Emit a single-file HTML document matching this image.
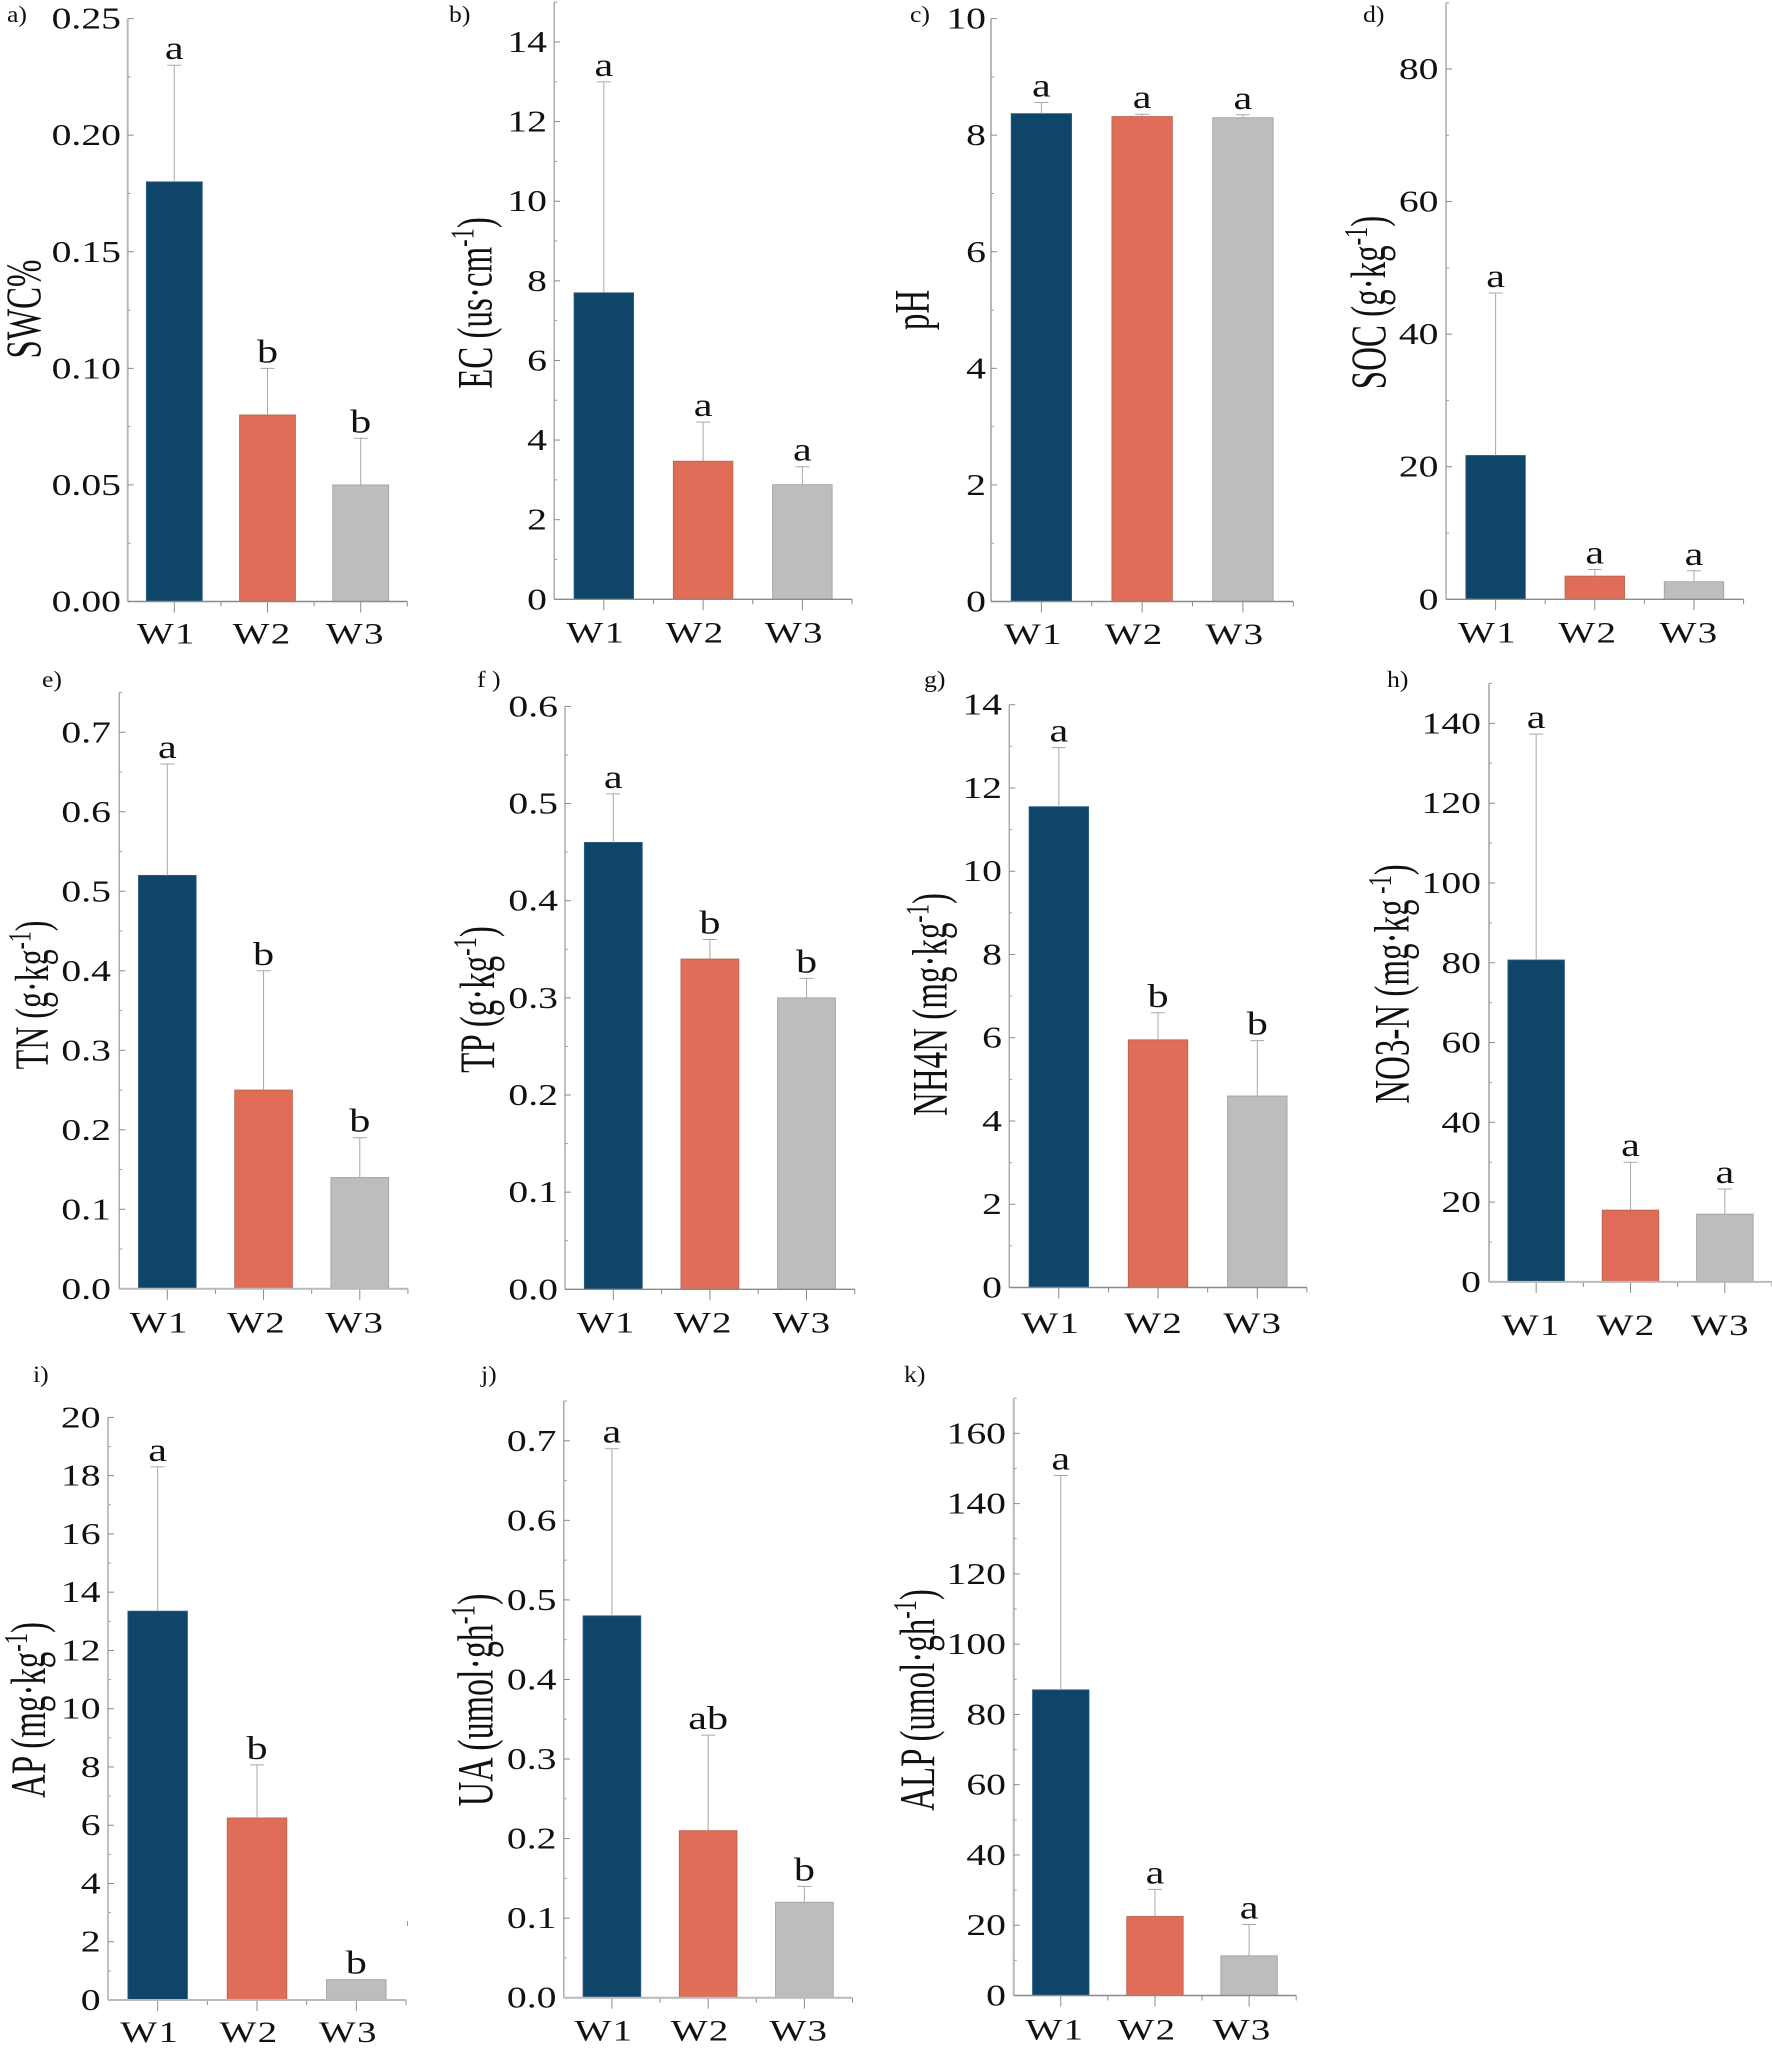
<!DOCTYPE html>
<html lang="en">
<head>
<meta charset="utf-8">
<title>Soil properties across W1, W2 and W3</title>
<style>
html,body{margin:0;padding:0;background:#fff;}
svg{display:block;font-family:"Liberation Serif","Times New Roman",serif;}
</style>
</head>
<body>
<svg id="figure" xmlns="http://www.w3.org/2000/svg" width="1772" height="2052" viewBox="0 0 1772 2052">
<rect x="0" y="0" width="1772" height="2052" fill="#ffffff"/>
<path d="M407.5 1921V1926" stroke="#999" stroke-width="1"/>
</svg>
<script>
const categories = ['W1', 'W2', 'W3'];

const swcValues = [0.18, 0.08, 0.05];
const swcErrors = [0.05, 0.02, 0.02];
const swcLetters = ['a', 'b', 'b'];
const swcTicks = ['0.00', '0.05', '0.10', '0.15', '0.20', '0.25'];

const ecValues = [7.7, 3.47, 2.88];
const ecErrors = [5.3, 0.98, 0.45];
const ecLetters = ['a', 'a', 'a'];
const ecTicks = ['0', '2', '4', '6', '8', '10', '12', '14'];

const phValues = [8.37, 8.32, 8.3];
const phErrors = [0.19, 0.04, 0.05];
const phLetters = ['a', 'a', 'a'];
const phTicks = ['0', '2', '4', '6', '8', '10'];

const socValues = [21.7, 3.5, 2.65];
const socErrors = [24.5, 1, 1.65];
const socLetters = ['a', 'a', 'a'];
const socTicks = ['0', '20', '40', '60', '80'];

const tnValues = [0.52, 0.25, 0.14];
const tnErrors = [0.14, 0.15, 0.05];
const tnLetters = ['a', 'b', 'b'];
const tnTicks = ['0.0', '0.1', '0.2', '0.3', '0.4', '0.5', '0.6', '0.7'];

const tpValues = [0.46, 0.34, 0.3];
const tpErrors = [0.05, 0.02, 0.02];
const tpLetters = ['a', 'b', 'b'];
const tpTicks = ['0.0', '0.1', '0.2', '0.3', '0.4', '0.5', '0.6'];

const nh4Values = [11.55, 5.95, 4.6];
const nh4Errors = [1.42, 0.65, 1.33];
const nh4Letters = ['a', 'b', 'b'];
const nh4Ticks = ['0', '2', '4', '6', '8', '10', '12', '14'];

const no3Values = [80.7, 18, 17];
const no3Errors = [56.6, 12, 6.3];
const no3Letters = ['a', 'a', 'a'];
const no3Ticks = ['0', '20', '40', '60', '80', '100', '120', '140'];

const apValues = [13.35, 6.25, 0.7];
const apErrors = [4.95, 1.82, 0];
const apLetters = ['a', 'b', 'b'];
const apTicks = ['0', '2', '4', '6', '8', '10', '12', '14', '16', '18', '20'];

const uaValues = [0.48, 0.21, 0.12];
const uaErrors = [0.21, 0.12, 0.02];
const uaLetters = ['a', 'ab', 'b'];
const uaTicks = ['0.0', '0.1', '0.2', '0.3', '0.4', '0.5', '0.6', '0.7'];

const alpValues = [87, 22.5, 11.3];
const alpErrors = [61, 7.7, 8.9];
const alpLetters = ['a', 'a', 'a'];
const alpTicks = ['0', '20', '40', '60', '80', '100', '120', '140', '160'];

const barColors = ['#0f4569', '#df6d58', '#bdbdbd'];
const barEdges = ['#2f6085', '#b9604f', '#9d9d9d'];
const NS = 'http://www.w3.org/2000/svg';
const STRETCH = 1.28;
const TITLE_STRETCH = 1.5;
const thin = '#8a8a8a';
const thick = '#b9b9b9';
const svg = document.getElementById('figure');

function make(parent, tag, attrs) {
  const node = document.createElementNS(NS, tag);
  for (const k in attrs) node.setAttribute(k, attrs[k]);
  parent.appendChild(node);
  return node;
}

function drawPanel(p) {
  const g = make(svg, 'g', {});
  
  

  const yMaxValue = p.yMax;
  const yScale = v => p.yBase - (v / yMaxValue) * (p.yBase - p.yTop);
  const band = (p.x1 - p.x0) / p.categories.length;
  const xScale = i => p.x0 + (i + 0.5) * band;
  const barWidth = band * 0.6;
  const nudge = p.labelNudge || [0, 0, 0];

  p.categories.forEach((cat, i) => {
    const value = p.values[i];
    const err = p.errors[i];
    const cx = xScale(i);
    const bar = make(g, 'rect', {
      x: cx - barWidth / 2, y: yScale(value), width: barWidth, height: p.yBase - yScale(value),
      fill: barColors[i], stroke: barEdges[i], 'stroke-width': 0.8
    });
    
    

    if (err > 0) {
      const top = yScale(value + err);
      const errLine = make(g, 'path', {
        d: 'M' + cx + ' ' + yScale(value) + 'V' + top + 'M' + (cx - 7) + ' ' + top + 'H' + (cx + 7),
        stroke: '#a8a8a8', 'stroke-width': 1, fill: 'none'
      });
      
      
    }

    const letterY = yScale(value + err) - 6;
    const letter = make(g, 'text', {
      transform: 'translate(' + cx + ' ' + letterY + ') scale(' + STRETCH + ' 1)',
      'text-anchor': 'middle', 'font-size': 33, fill: '#111'
    });
    letter.textContent = p.letters[i];
    
    

    const label = make(g, 'text', {
      transform: 'translate(' + (cx - 8 + nudge[i]) + ' ' + p.labelY + ') scale(1.3 1)',
      'text-anchor': 'middle', 'font-size': 30, fill: '#111', 'letter-spacing': 1
    });
    label.textContent = cat;
    
    

    const majorTick = make(g, 'path', {
      d: 'M' + cx + ' ' + p.yBase + 'v11', stroke: '#8a8a8a', 'stroke-width': 1, fill: 'none'
    });
    
    

    const edgeTick = make(g, 'path', {
      d: 'M' + (p.x0 + (i + 1) * band) + ' ' + p.yBase + 'v5', stroke: '#8a8a8a', 'stroke-width': 1, fill: 'none'
    });
    
    
  });

  const yAxis = make(g, 'path', {
    d: 'M' + p.x0 + ' ' + p.yTop + 'V' + p.yBase,
    stroke: p.yAxisColor, 'stroke-width': p.yAxisWidth, fill: 'none'
  });
  
  

  const xAxis = make(g, 'path', {
    d: 'M' + p.x0 + ' ' + p.yBase + 'H' + p.x1,
    stroke: p.xAxisColor, 'stroke-width': p.xAxisWidth, fill: 'none'
  });
  
  

  const step = Number(p.ticks[1]) - Number(p.ticks[0]);
  p.ticks.forEach(t => {
    const v = Number(t);
    const y = yScale(v);
    if (v > 0) {
      const tick = make(g, 'path', {
        d: 'M' + p.x0 + ' ' + y + 'h6', stroke: '#8a8a8a', 'stroke-width': 1, fill: 'none'
      });
      
      
    }
    const label = make(g, 'text', {
      transform: 'translate(' + p.tickRight + ' ' + (y + 10) + ') scale(' + STRETCH + ' 1)',
      'text-anchor': 'end', 'font-size': 31, fill: '#111'
    });
    label.textContent = t;
    
    

    const mv = v + step / 2;
    if (mv <= yMaxValue + 1e-9) {
      const minor = make(g, 'path', {
        d: 'M' + p.x0 + ' ' + yScale(mv) + 'h3', stroke: '#a0a0a0', 'stroke-width': 1, fill: 'none'
      });
      
      
    }
  });

  const title = make(g, 'text', {
    transform: 'translate(' + p.titleX + ' ' + p.titleY + ') scale(' + TITLE_STRETCH + ' 1) rotate(-90)',
    'text-anchor': 'middle', 'font-size': p.titleSize, fill: '#111'
  });
  
  
  title.appendChild(document.createTextNode(p.title[0]));
  if (p.title[1]) {
    const sup = make(title, 'tspan', { dy: -p.titleSize * 0.36, 'font-size': p.titleSize * 0.68 });
    sup.textContent = p.title[1];
    
    
    const tail = make(title, 'tspan', { dy: p.titleSize * 0.36 });
    tail.textContent = p.title[2];
    
    
  }

  const tag = make(g, 'text', {
    transform: 'translate(' + p.tagX + ' ' + p.tagY + ') scale(1.12 1)',
    'font-size': 23, fill: '#111'
  });
  tag.textContent = p.tag;
  
  
}

drawPanel({ id: 'swc', tag: 'a)', categories, values: swcValues, errors: swcErrors, letters: swcLetters, ticks: swcTicks,
  yMax: 0.25, x0: 127.7, x1: 407.3, yBase: 601.5, yTop: 18.6, labelY: 643.5, tickRight: 121, labelNudge: [0, 2.6, 2.6],
  title: ['SWC%'], titleX: 40, titleY: 309, titleSize: 33, tagX: 7, tagY: 22,
  yAxisColor: thick, yAxisWidth: 2, xAxisColor: thin, xAxisWidth: 1.4 });

drawPanel({ id: 'ec', tag: 'b)', categories, values: ecValues, errors: ecErrors, letters: ecLetters, ticks: ecTicks,
  yMax: 15, x0: 554.2, x1: 852, yBase: 599.3, yTop: 2.2, labelY: 642.5, tickRight: 547,
  title: ['EC (us·cm', '-1', ')'], titleX: 491.5, titleY: 303, titleSize: 33, tagX: 449, tagY: 22,
  yAxisColor: '#999', yAxisWidth: 1.2, xAxisColor: thin, xAxisWidth: 1.4 });

drawPanel({ id: 'ph', tag: 'c)', categories, values: phValues, errors: phErrors, letters: phLetters, ticks: phTicks,
  yMax: 10, x0: 991, x1: 1293.3, yBase: 601.5, yTop: 18.6, labelY: 644, tickRight: 986,
  title: ['pH'], titleX: 928.4, titleY: 310, titleSize: 33, tagX: 910, tagY: 22,
  yAxisColor: thick, yAxisWidth: 2, xAxisColor: thin, xAxisWidth: 1.4 });

drawPanel({ id: 'soc', tag: 'd)', categories, values: socValues, errors: socErrors, letters: socLetters, ticks: socTicks,
  yMax: 90, x0: 1446, x1: 1743.6, yBase: 599.3, yTop: 2.7, labelY: 642.5, tickRight: 1438.5, labelNudge: [0, 1, 3],
  title: ['SOC (g·kg', '-1', ')'], titleX: 1385, titleY: 302.5, titleSize: 33, tagX: 1363, tagY: 22,
  yAxisColor: thick, yAxisWidth: 1.8, xAxisColor: thin, xAxisWidth: 1.4 });

drawPanel({ id: 'tn', tag: 'e)', categories, values: tnValues, errors: tnErrors, letters: tnLetters, ticks: tnTicks,
  yMax: 0.75, x0: 119.2, x1: 407.9, yBase: 1288.8, yTop: 692.5, labelY: 1332.5, tickRight: 111, labelNudge: [0, 1, 3],
  title: ['TN (g·kg', '-1', ')'], titleX: 48, titleY: 995, titleSize: 32, tagX: 42, tagY: 687,
  yAxisColor: '#999', yAxisWidth: 1.2, xAxisColor: thick, xAxisWidth: 2 });

drawPanel({ id: 'tp', tag: 'f )', categories, values: tpValues, errors: tpErrors, letters: tpLetters, ticks: tpTicks,
  yMax: 0.6, x0: 565, x1: 854.8, yBase: 1289.3, yTop: 706.4, labelY: 1332.5, tickRight: 558, labelNudge: [1, 1.5, 3.5],
  title: ['TP (g·kg', '-1', ')'], titleX: 494, titleY: 999.5, titleSize: 33, tagX: 477, tagY: 687,
  yAxisColor: '#999', yAxisWidth: 1.2, xAxisColor: thin, xAxisWidth: 1.4 });

drawPanel({ id: 'nh4n', tag: 'g)', categories, values: nh4Values, errors: nh4Errors, letters: nh4Letters, ticks: nh4Ticks,
  yMax: 14, x0: 1009.2, x1: 1306.9, yBase: 1287.5, yTop: 704.7, labelY: 1333, tickRight: 1002, labelNudge: [0, 3.5, 3.5],
  title: ['NH4N (mg·kg', '-1', ')'], titleX: 946.5, titleY: 1004.5, titleSize: 33, tagX: 924, tagY: 687,
  yAxisColor: '#999', yAxisWidth: 1.2, xAxisColor: thin, xAxisWidth: 1.4 });

drawPanel({ id: 'no3n', tag: 'h)', categories, values: no3Values, errors: no3Errors, letters: no3Letters, ticks: no3Ticks,
  yMax: 150, x0: 1489, x1: 1772, yBase: 1281.9, yTop: 683.5, labelY: 1334.8, tickRight: 1481, labelNudge: [3, 3.5, 3.5],
  title: ['NO3-N (mg·kg', ' -1', ')'], titleX: 1408.6, titleY: 984, titleSize: 33, tagX: 1387, tagY: 687,
  yAxisColor: thick, yAxisWidth: 2, xAxisColor: thick, xAxisWidth: 2 });

drawPanel({ id: 'ap', tag: 'i)', categories, values: apValues, errors: apErrors, letters: apLetters, ticks: apTicks,
  yMax: 20, x0: 108, x1: 406, yBase: 2000, yTop: 1417.4, labelY: 2041.8, tickRight: 100.6,
  title: ['AP (mg·kg', '-1', ')'], titleX: 45, titleY: 1710, titleSize: 33, tagX: 33, tagY: 1382,
  yAxisColor: thick, yAxisWidth: 1.8, xAxisColor: thick, xAxisWidth: 2 });

drawPanel({ id: 'ua', tag: 'j)', categories, values: uaValues, errors: uaErrors, letters: uaLetters, ticks: uaTicks,
  yMax: 0.75, x0: 563.8, x1: 852.5, yBase: 1997.7, yTop: 1401, labelY: 2040.5, tickRight: 556.5, labelNudge: [0, 0, 2.5],
  title: ['UA (umol·gh', '-1', ')'], titleX: 492.7, titleY: 1700, titleSize: 34, tagX: 481, tagY: 1382,
  yAxisColor: '#a5a5a5', yAxisWidth: 1.4, xAxisColor: thick, xAxisWidth: 2 });

drawPanel({ id: 'alp', tag: 'k)', categories, values: alpValues, errors: alpErrors, letters: alpLetters, ticks: alpTicks,
  yMax: 170, x0: 1013.7, x1: 1296.2, yBase: 1995.5, yTop: 1398.2, labelY: 2039.6, tickRight: 1006, labelNudge: [2, 0, 1],
  title: ['ALP (umol·gh', '-1', ')'], titleX: 934, titleY: 1700, titleSize: 33, tagX: 904, tagY: 1382,
  yAxisColor: thick, yAxisWidth: 2, xAxisColor: thin, xAxisWidth: 1.4 });
</script>
</body>
</html>
